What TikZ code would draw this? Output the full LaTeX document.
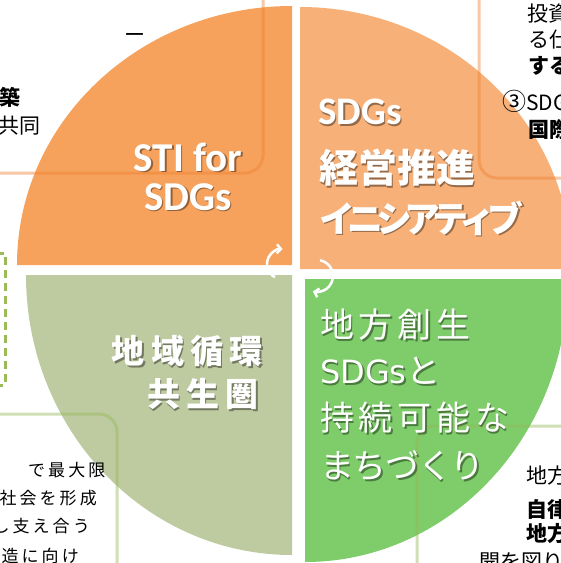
\documentclass[tikz,border=0pt]{standalone}
\usepackage{fontspec}
\usetikzlibrary{arrows.meta}
\setmainfont{Carlito}
\newfontfamily\jp{Noto Sans CJK JP}
\newfontfamily\dvsans{DejaVu Sans}
\definecolor{sdgorange}{RGB}{246,162,92}
\definecolor{sdglight}{RGB}{246,176,120}
\definecolor{sdgsage}{RGB}{190,202,160}
\definecolor{sdggreen}{RGB}{126,204,106}
\definecolor{boxorange}{RGB}{240,130,50}
\definecolor{boxgreen}{RGB}{150,185,90}
\definecolor{dashgreen}{RGB}{155,187,89}

\newcommand{\sdglabel}[4]{%
\node[#1,text=black,opacity=0.4,xshift=1.5pt,yshift=-1.5pt] at (#3) {#4};
\node[#1,text=white] (#2) at (#3) {#4};}

\tikzset{
  stilbl/.style={inner sep=0pt,font=\bfseries\fontsize{41}{41}\selectfont},
  mgmtlbl/.style={inner sep=0pt,anchor=west,font=\jp\bfseries\fontsize{39}{39}\selectfont},
  ecolbl/.style={inner sep=0pt,anchor=east,font=\jp\bfseries\fontsize{33}{33}\selectfont\addfontfeature{LetterSpace=19}},
  townlbl/.style={inner sep=0pt,anchor=west,font=\jp\fontsize{34}{34}\selectfont\addfontfeature{LetterSpace=14}},
  sidetxt/.style={inner sep=0pt,font=\jp\fontsize{21}{21}\selectfont},
  sidebold/.style={inner sep=0pt,font=\jp\bfseries\fontsize{21}{21}\selectfont},
  notetxt/.style={inner sep=0pt,font=\jp\fontsize{17}{17}\selectfont\addfontfeature{LetterSpace=18}},
  boxline/.style={line width=3,rounded corners=18,opacity=0.45},
  turn/.style={white,line width=2.5,-{Straight Barb[length=4pt,width=9pt]}}
}

\begin{document}
\begin{tikzpicture}[x=1pt,y=-1pt]
\useasboundingbox (0,0) rectangle (561,563);
\clip (0,0) rectangle (561,563);

\path[fill=sdgorange] (292,265) -- ++(-275,0) arc[start angle=180,end angle=270,x radius=275,y radius=259] -- cycle;
\path[fill=sdglight] (300,269) -- ++(0,-262) arc[start angle=270,end angle=360,x radius=272,y radius=262] -- cycle;
\path[fill=sdgsage] (292,275) -- ++(-266,0) arc[start angle=180,end angle=90,x radius=266,y radius=280] -- cycle;
\path[fill=sdggreen] (305,279) -- ++(263,0) arc[start angle=0,end angle=90,x radius=263,y radius=283] -- cycle;

\path[draw,boxorange,boxline] (263,-5) -- (263,173) -- (-5,173);
\path[draw,boxorange,boxline] (479,-5) -- (479,178) -- (570,178);
\path[draw,boxgreen,boxline] (-5,414) -- (117,414) -- (117,570);
\path[draw,boxgreen,boxline] (570,426) -- (417,426) -- (417,570);
\path[draw,dashgreen,line width=3,dash pattern=on 8pt off 5pt] (-4,253) -- (5,253) -- (5,385) -- (-4,385);

\path[draw,turn] (282,264) ++(118:15) arc[start angle=118,end angle=272,radius=15];
\path[draw,turn] (317,276) ++(281:16) arc[start angle=281,end angle=465,radius=16];

\sdglabel{stilbl}{stifor}{188,157}{STI for}
\sdglabel{stilbl}{stisdgs}{188,197}{SDGs}
\sdglabel{mgmtlbl,font=\bfseries\fontsize{39}{39}\selectfont}{mgmtsdgs}{318,112}{SDGs}
\sdglabel{mgmtlbl}{mgmtjp}{319,168}{経営推進}
\sdglabel{mgmtlbl,font=\jp\bfseries\fontsize{36}{36}\selectfont\addfontfeature{LetterSpace=-21}}{mgmtkana}{319,218}{イニシアティブ}
\sdglabel{ecolbl}{ecoa}{263,351}{地域循環}
\sdglabel{ecolbl}{ecob}{259,394}{共生圏}
\sdglabel{townlbl}{towna}{320,325}{地方創生}
\sdglabel{townlbl,font=\jp\fontsize{34}{34}\selectfont}{townb}{320,371}{{\dvsans\fontsize{32}{32}\selectfont SDGs}と}
\sdglabel{townlbl}{townc}{320,418}{持続可能な}
\sdglabel{townlbl,font=\jp\fontsize{34}{34}\selectfont\addfontfeature{LetterSpace=-4}}{townd}{320,466}{まちづくり}

\node[sidebold,anchor=east] (kochiku) at (21,97) {築};
\node[sidetxt,anchor=east] (kyodo) at (41,126) {共同};
\node[sidetxt] (choon) at (135,38) {ー};

\node[sidetxt,anchor=west] (toshi) at (527,14) {投資};
\node[sidetxt,anchor=west] (shikumi) at (528,40) {る仕};
\node[sidebold,anchor=west] (suru) at (528,66) {する};
\node[sidetxt,anchor=west] (sdgthree) at (502,101) {{\fontsize{24}{24}\selectfont ③}SDGs};
\node[sidebold,anchor=west] (kokusai) at (528,130) {国際};

\node[sidetxt,anchor=west] (chihoa) at (526,476) {地方};
\node[sidebold,anchor=west] (jiritsu) at (526,510) {自律};
\node[sidebold,anchor=west] (chihob) at (526,534) {地方};
\node[sidetxt,anchor=west] (kaihatsu) at (479,562) {開を図り};

\node[notetxt,anchor=west] (saidai) at (28,470) {で最大限};
\node[notetxt,anchor=east] (keisei) at (97,498) {社会を形成};
\node[notetxt,anchor=east] (sasae) at (90,526) {し支え合う};
\node[notetxt,anchor=east] (muke) at (79,556) {造に向け};
\end{tikzpicture}
\end{document}
